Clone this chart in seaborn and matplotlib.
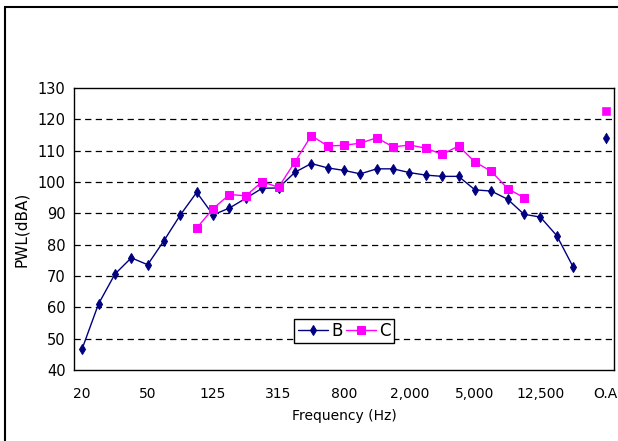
import matplotlib
matplotlib.use("Agg")
import matplotlib.pyplot as plt
import numpy as np
import pandas as pd
import seaborn as sns

# 1/3 octave bands 20 Hz .. 20 kHz, then a blank slot, then overall
bands = ['20', '25', '31.5', '40', '50', '63', '80', '100', '125', '160', '200',
         '250', '315', '400', '500', '630', '800', '1000', '1250', '1600', '2000',
         '2500', '3150', '4000', '5000', '6300', '8000', '10000', '12500', '16000',
         '20000']
tick_labels = ['20', '50', '125', '315', '800', '2,000', '5,000', '12,500', 'O.A']

B = [46.8, 61.1, 70.6, 75.8, 73.6, 81.3, 89.5, 96.7, 89.5, 91.7, 94.8,
     98.0, 98.1, 103.1, 105.9, 104.5, 103.7, 102.6, 104.2, 104.2, 103.0,
     102.2, 101.8, 101.8, 97.5, 97.1, 94.5, 89.7, 88.8, 82.9, 72.9]
C = [np.nan] * 7 + [85.3, 91.5, 96.0, 95.6, 100.1, 98.3, 106.4, 114.8, 111.5,
     111.7, 112.4, 114.1, 111.2, 111.8, 110.8, 108.8, 111.5, 106.4, 103.4,
     97.9, 95.0] + [np.nan] * 3
B_oa = 114.0
C_oa = 122.6

sns.set_style("white")
plt.rcParams['font.family'] = ['DejaVu Sans']
plt.rcParams['text.color'] = 'black'
plt.rcParams['axes.labelcolor'] = 'black'

n = len(bands)
df = pd.DataFrame({'pos': np.arange(n), 'B': B, 'C': C})
oa_pos = n + 1

fig = plt.figure(figsize=(6.18, 4.41), dpi=100)
ax = fig.add_axes([74/618, (441-370)/441, (614-74)/618, (370-88)/441])

navy = '#000080'
magenta = '#FF00FF'

sns.lineplot(data=df, x='pos', y='B', ax=ax, color=navy, lw=1, marker='d',
             markersize=5.5, markeredgecolor=navy, label='B')
sns.lineplot(data=df.dropna(), x='pos', y='C', ax=ax, color=magenta, lw=1,
             marker='s', markersize=5.5, markeredgecolor=magenta, label='C')
sns.scatterplot(x=[oa_pos], y=[B_oa], ax=ax, color=navy, marker='d', s=30,
                edgecolor=navy, legend=False)
sns.scatterplot(x=[oa_pos], y=[C_oa], ax=ax, color=magenta, marker='s', s=30,
                edgecolor=magenta, legend=False)

ax.set_xlim(-0.5, oa_pos + 0.5)
ax.set_ylim(40, 130)
ax.set_yticks(np.arange(40, 131, 10))
ax.set_xticks(np.arange(0, oa_pos + 1, 4))
ax.set_xticklabels(tick_labels)
ax.set_xticks(np.arange(-0.5, oa_pos + 1, 1), minor=True)
ax.tick_params(axis='x', which='major', length=0, pad=12, labelsize=10, colors='black')
ax.tick_params(axis='x', which='minor', length=5, direction='in', width=0.8, color='black')
ax.tick_params(axis='y', length=0, pad=6, labelsize=10.5, colors='black')

for yv in range(50, 130, 10):
    ax.axhline(yv, color='black', lw=0.9, ls=(0, (5, 3.5)), zorder=0)

for s in ax.spines.values():
    s.set_color('black')
    s.set_linewidth(1)
    s.set_visible(True)

ax.set_xlabel('Frequency (Hz)', fontsize=10, labelpad=6)
ax.set_ylabel('PWL(dBA)', fontsize=11, labelpad=6)

leg = ax.legend(loc='lower center', bbox_to_anchor=(0.5, 0.095), ncol=2,
                frameon=True, fancybox=False, fontsize=12, handlelength=1.8,
                handletextpad=0.2, columnspacing=0.2, borderpad=0.2,
                borderaxespad=0)
leg.get_frame().set_edgecolor('black')
leg.get_frame().set_linewidth(1)
leg.get_frame().set_alpha(1)

# outer chart frame (only left/top edges visible in the crop)
fig.patches.append(plt.Rectangle((5/618, -0.1), 1.2, (441-7)/441 + 0.1,
                                 transform=fig.transFigure, fill=False,
                                 edgecolor='black', lw=1.5))

fig.savefig('out.png', dpi=100)
